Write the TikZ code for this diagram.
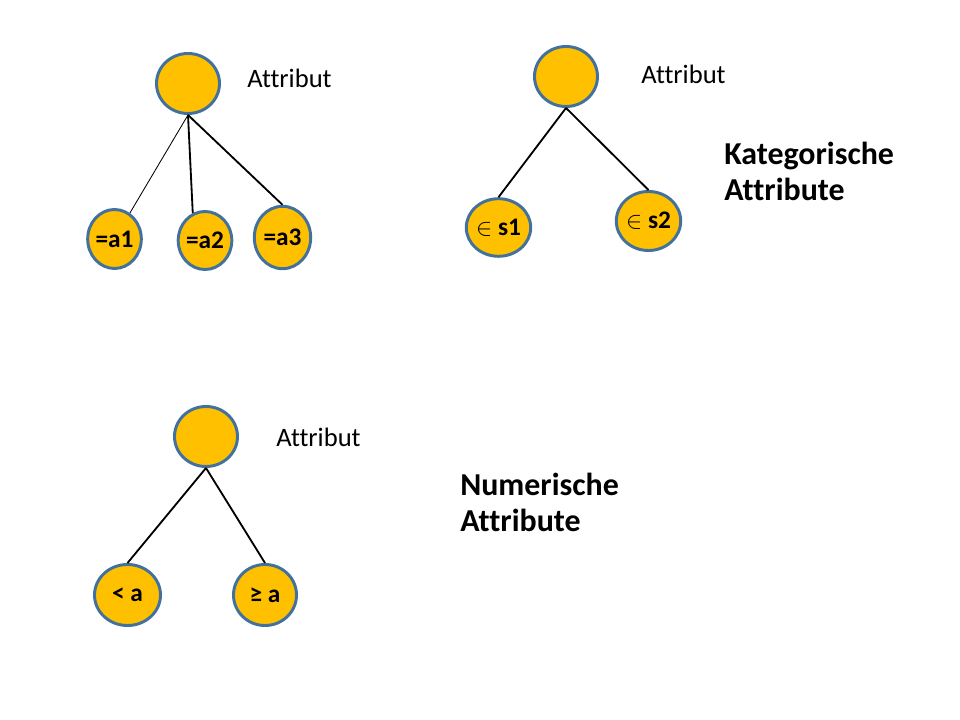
\documentclass[tikz,border=0pt]{standalone}
\usepackage{fontspec}
\setmainfont{Carlito}[Ligatures=NoCommon]
\usetikzlibrary{shapes.geometric}
\definecolor{knotgelb}{HTML}{FFC000}
\definecolor{knotrand}{HTML}{41719C}

\begin{document}
\begin{tikzpicture}[x=0.025cm,y=-0.025cm,
    knoten/.style={ellipse,draw=knotrand,fill=knotgelb,line width=2.1pt,inner sep=0pt,
        minimum width=1.575cm,minimum height=1.5cm,font=\fontsize{18}{21}\selectfont\bfseries},
    kante/.style={line width=1.3pt},
    attr/.style={anchor=west,inner sep=0pt,font=\fontsize{18.9}{22}\selectfont},
    titel/.style={anchor=west,inner sep=0pt,align=left,font=\fontsize{22.7}{25.5}\selectfont\bfseries}]
    \useasboundingbox (0,0) rectangle (960,720);

    % Kategorische Attribute, drei Werte
    \node[knoten] (r1) at (188,83.5) {};
    \node[attr] (attr1) at (247,78) {Attribut};
    \node[knoten,minimum width=1.3cm,minimum height=1.475cm] (a1) at (114.5,239) {=a1};
    \node[knoten,minimum width=1.325cm,minimum height=1.45cm] (a2) at (205,240.5) {=a2};
    \node[knoten,minimum width=1.41cm,minimum height=1.56cm] (a3) at (282.5,237.5) {=a3};
    \draw[line width=0.6pt] (r1.south) -- (a1);
    \draw[kante] (r1.south) -- (a2.114);
    \draw[kante] (r1.south) -- (a3.north);

    % Kategorische Attribute, zwei Mengen
    \node[knoten] (r2) at (566,76.5) {};
    \node[attr] (attr2) at (641,74) {Attribut};
    \node[knoten,minimum width=1.61cm,minimum height=1.44cm] (s1) at (498.5,227.5) {$\in$ s1};
    \node[knoten,minimum width=1.61cm,minimum height=1.475cm] (s2) at (648.5,221) {$\in$ s2};
    \draw[kante] (r2.south) -- (s1.north);
    \draw[kante] (r2.south) -- (s2.north);
    \node[titel] (kat) at (724,171) {Kategorische\\Attribute};

    % Numerische Attribute
    \node[knoten] (r3) at (206,436.5) {};
    \node[attr] (attr3) at (276,437) {Attribut};
    \node[knoten,minimum width=1.65cm,minimum height=1.525cm] (lt) at (127.5,595) {< a};
    \node[knoten,minimum width=1.575cm,minimum height=1.525cm] (ge) at (265,595) {≥ a};
    \draw[kante] (r3.south) -- (lt.north);
    \draw[kante] (r3.south) -- (ge.north);
    \node[titel] (num) at (460,502) {Numerische\\Attribute};
\end{tikzpicture}
\end{document}
